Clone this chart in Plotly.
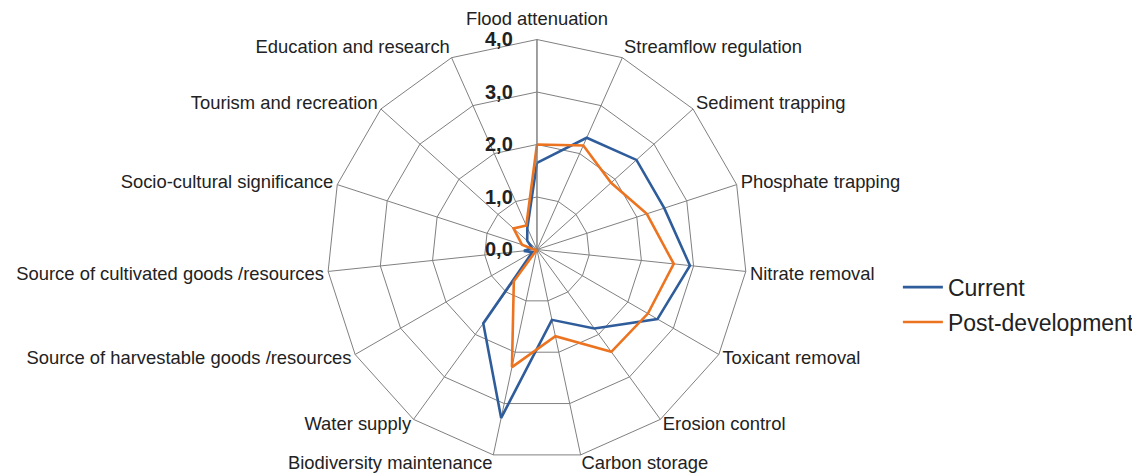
import plotly.graph_objects as go

categories = [
    "Flood attenuation", "Streamflow regulation", "Sediment trapping",
    "Phosphate trapping", "Nitrate removal", "Toxicant removal",
    "Erosion control", "Carbon storage", "Biodiversity maintenance",
    "Water supply", "Source of harvestable goods /resources",
    "Source of cultivated goods /resources", "Socio-cultural significance",
    "Tourism and recreation", "Education and research",
]
current = [1.65, 2.33, 2.55, 2.55, 2.93, 2.65, 1.86, 1.37, 3.28, 1.74,
           0.1, 0.25, 0.1, 0.25, 0.45]
post_development = [2.0, 2.17, 1.9, 2.2, 2.62, 2.44, 2.41, 1.69, 2.29, 0.75,
                    0.0, 0.05, 0.3, 0.6, 0.5]
radial_ticks = [0, 1, 2, 3, 4]
radial_labels = ["0,0", "1,0", "2,0", "3,0", "4,0"]

LABEL_SIZE = 18.4
# upward nudges (px) for some category labels, to sit where the reference puts them
label_lift = {
    "Flood attenuation": 7, "Toxicant removal": 7,
    "Source of harvestable goods /resources": 7,
    "Erosion control": 11, "Water supply": 11,
    "Carbon storage": 9, "Biodiversity maintenance": 9,
}


def lifted(text, shift):
    sup_size = shift / 0.6
    outer = sup_size / 0.7
    return ("<span style='font-size:%.2fpx'><sup><span style='font-size:%.1fpx'>%s"
            "</span></sup></span>" % (outer, LABEL_SIZE, text))


angular_text = [lifted(c, label_lift[c]) if c in label_lift else c for c in categories]

fig = go.Figure()
for name, vals, color in [("Current", current, "#2F5D9B"),
                          ("Post-development", post_development, "#EC7420")]:
    fig.add_trace(go.Scatterpolar(
        r=vals + vals[:1], theta=categories + categories[:1],
        mode="lines", name=name, legendgroup=name,
        line=dict(color=color, width=2.6),
    ))

pad = "\u00a0" * 3
fig.update_layout(
    width=1140, height=474,
    margin=dict(l=0, r=0, t=0, b=0),
    paper_bgcolor="white",
    font=dict(family="Liberation Sans, Arial, sans-serif", color="#222"),
    polar=dict(
        domain=dict(x=[0.2798, 0.6482], y=[0.0475, 0.9335]),
        bgcolor="white",
        gridshape="linear",
        angularaxis=dict(
            rotation=90, direction="clockwise",
            tickvals=categories, ticktext=angular_text,
            showline=True, linecolor="#808080", linewidth=1,
            gridcolor="#808080", gridwidth=1,
            ticks="", tickfont=dict(size=LABEL_SIZE, color="#222"),
        ),
        radialaxis=dict(
            range=[0, 4], tickvals=radial_ticks,
            ticktext=["<b>" + t + "</b>" + pad for t in radial_labels],
            angle=90, side="counterclockwise", tickangle=90,
            showline=True, linecolor="#808080", linewidth=1,
            gridcolor="#808080", gridwidth=1, ticks="",
            tickfont=dict(size=20, color="#222", family="Liberation Sans, Arial, sans-serif"),
        ),
    ),
    legend=dict(
        x=0.7806, y=0.374, xanchor="left", yanchor="middle",
        font=dict(size=23, color="#222"),
        itemwidth=40, tracegroupgap=2,
    ),
    showlegend=True,
)

fig.write_html("out.html")
